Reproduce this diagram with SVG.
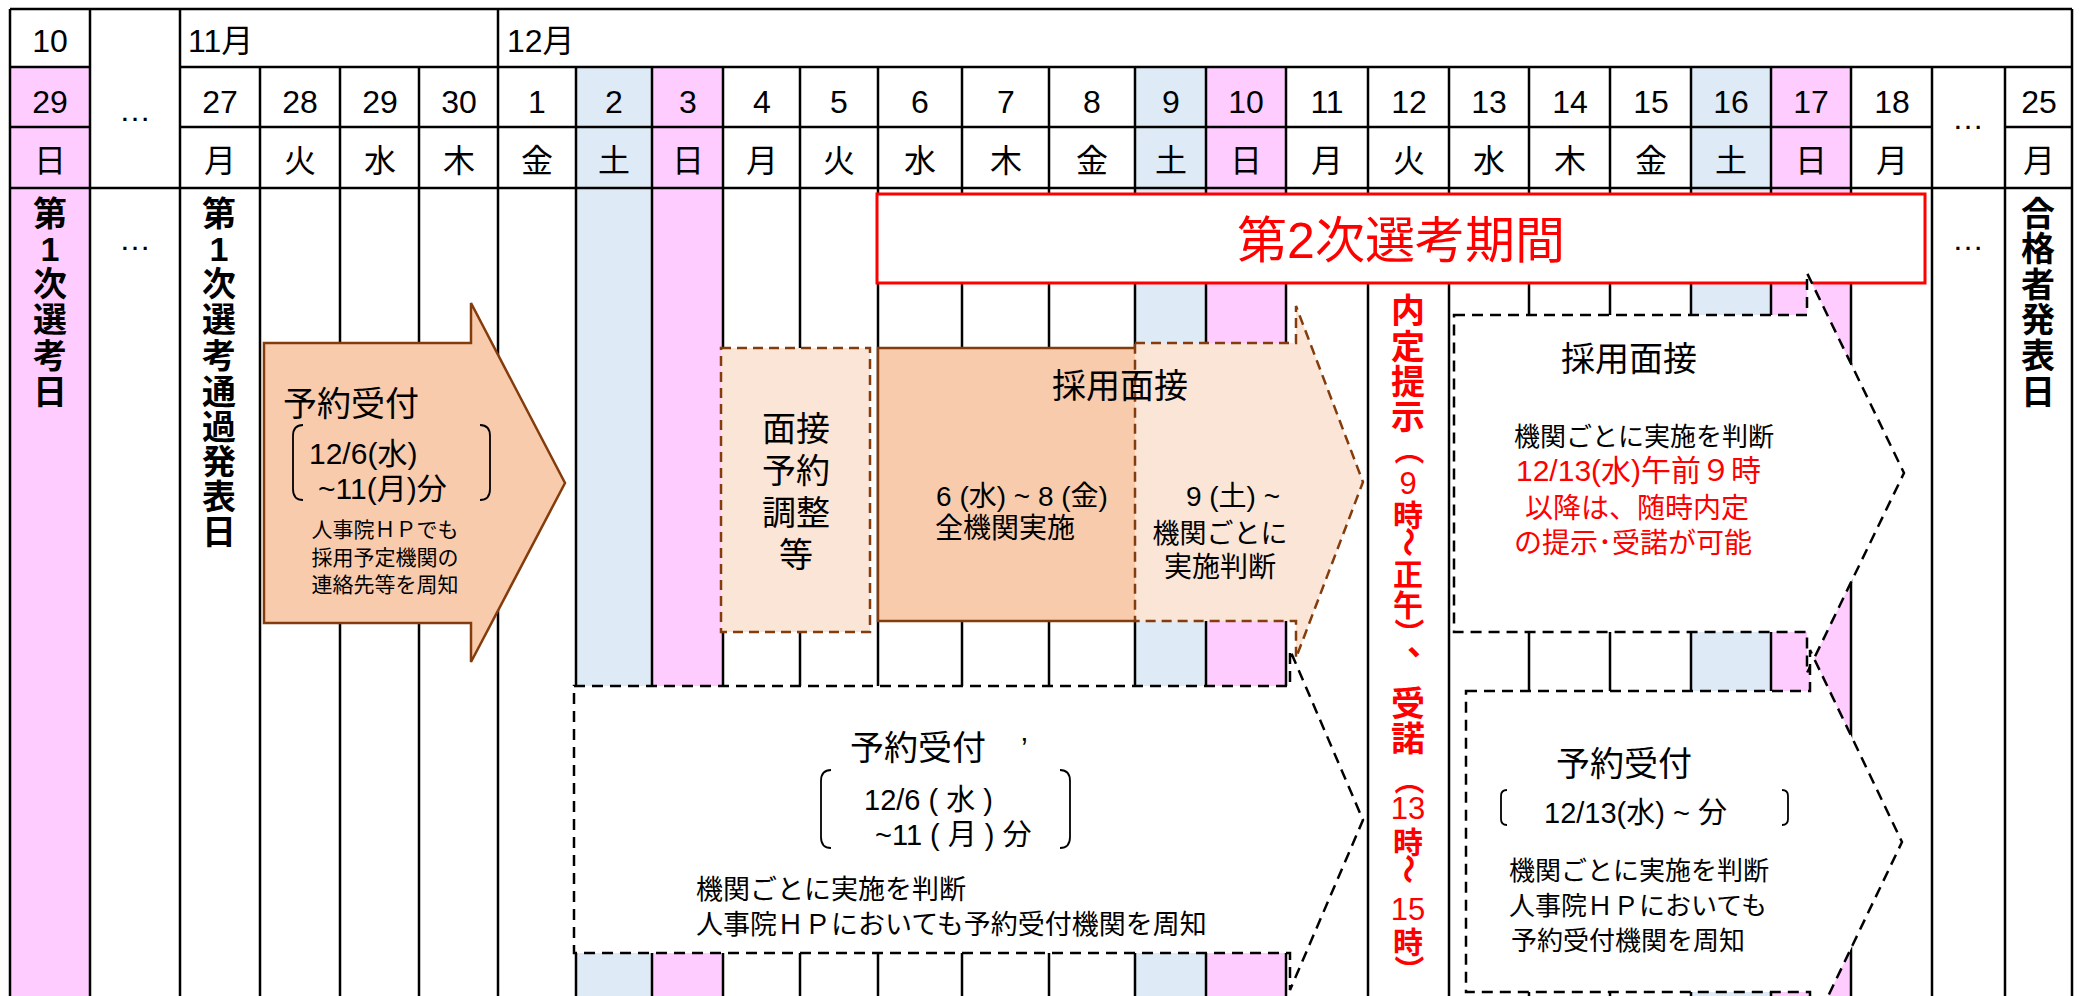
<svg xmlns="http://www.w3.org/2000/svg" width="2083" height="996" viewBox="0 0 2083 996">
<style>
.ln{stroke:#000;stroke-width:2.5;fill:none}
.f{font-family:"Liberation Sans","Noto Sans CJK JP",sans-serif;fill:#000}
.m{text-anchor:middle}
.hd{font-size:32px}
.wd{font-size:32px}
.vb{font-size:34px;font-weight:bold;text-anchor:middle;dominant-baseline:central}
.vs{font-size:30px;font-weight:bold;text-anchor:middle;dominant-baseline:central}
.vd{font-size:31px;text-anchor:middle;dominant-baseline:central}
.red{fill:#F00}
.pink{fill:#FFCCFF}
.blue{fill:#DEEBF7}
.orange{fill:#F8CBAD;stroke:#843C0C;stroke-width:2.5}
.peach{fill:#FBE5D6;stroke:#843C0C;stroke-width:2.5;stroke-dasharray:10 6}
.dash{fill:#fff;stroke:#000;stroke-width:2.5;stroke-dasharray:11 7}
.br{fill:none;stroke:#000;stroke-width:1.8}
</style>
<rect x="0" y="0" width="2083" height="996" fill="#fff"/>

<g id="calendar">
  <rect class="pink" x="10" y="67" width="80" height="929"/>
  <rect class="blue" x="576" y="67" width="76" height="929"/>
  <rect class="pink" x="652" y="67" width="71" height="929"/>
  <rect class="blue" x="1135" y="67" width="71" height="929"/>
  <rect class="pink" x="1206" y="67" width="80" height="929"/>
  <rect class="blue" x="1691" y="67" width="80" height="929"/>
  <rect class="pink" x="1771" y="67" width="80" height="929"/>
  <path class="ln" d="M10,9H2072 M10,67H90 M180,67H2072 M10,127H90 M180,127H1932 M2005,127H2072 M10,188H2072
  M10,9V996 M90,9V996 M180,9V996 M498,9V996 M2072,9V996
  M260,67V996 M340,67V996 M419,67V996 M576,67V996 M652,67V996 M723,67V996 M800,67V996 M878,67V996
  M962,67V996 M1049,67V996 M1135,67V996 M1206,67V996 M1286,67V996 M1368,67V996 M1449,67V996
  M1529,67V996 M1610,67V996 M1691,67V996 M1771,67V996 M1851,67V996 M1932,67V996 M2005,67V996"/>
  <g class="f hd m">
    <text x="50" y="52">10</text>
    <text x="135" y="121">…</text>
    <text x="1968" y="129">…</text>
    <text x="135" y="250">…</text>
    <text x="1968" y="250">…</text>
    <text x="50" y="113">29</text>
    <text x="220" y="113">27</text>
    <text x="300" y="113">28</text>
    <text x="380" y="113">29</text>
    <text x="459" y="113">30</text>
    <text x="537" y="113">1</text>
    <text x="614" y="113">2</text>
    <text x="688" y="113">3</text>
    <text x="762" y="113">4</text>
    <text x="839" y="113">5</text>
    <text x="920" y="113">6</text>
    <text x="1006" y="113">7</text>
    <text x="1092" y="113">8</text>
    <text x="1171" y="113">9</text>
    <text x="1246" y="113">10</text>
    <text x="1327" y="113">11</text>
    <text x="1409" y="113">12</text>
    <text x="1489" y="113">13</text>
    <text x="1570" y="113">14</text>
    <text x="1651" y="113">15</text>
    <text x="1731" y="113">16</text>
    <text x="1811" y="113">17</text>
    <text x="1892" y="113">18</text>
    <text x="2039" y="113">25</text>
  </g>
  <text class="f hd" x="188" y="52">11月</text>
  <text class="f hd" x="507" y="52">12月</text>
  <g class="f wd m">
    <text x="50" y="172">日</text>
    <text x="220" y="172">月</text>
    <text x="300" y="172">火</text>
    <text x="380" y="172">水</text>
    <text x="459" y="172">木</text>
    <text x="537" y="172">金</text>
    <text x="614" y="172">土</text>
    <text x="688" y="172">日</text>
    <text x="762" y="172">月</text>
    <text x="839" y="172">火</text>
    <text x="920" y="172">水</text>
    <text x="1006" y="172">木</text>
    <text x="1092" y="172">金</text>
    <text x="1171" y="172">土</text>
    <text x="1246" y="172">日</text>
    <text x="1327" y="172">月</text>
    <text x="1409" y="172">火</text>
    <text x="1489" y="172">水</text>
    <text x="1570" y="172">木</text>
    <text x="1651" y="172">金</text>
    <text x="1731" y="172">土</text>
    <text x="1811" y="172">日</text>
    <text x="1892" y="172">月</text>
    <text x="2039" y="172">月</text>
  </g>
</g>

<g id="label-exam1" class="f">
  <text class="vb" x="50" y="214">第</text>
  <text class="vb" x="50" y="249">1</text>
  <text class="vb" x="50" y="284">次</text>
  <text class="vb" x="50" y="320">選</text>
  <text class="vb" x="50" y="356">考</text>
  <text class="vb" x="50" y="392">日</text>
</g>

<g id="label-pass1" class="f">
  <text class="vb" x="219" y="214">第</text>
  <text class="vb" x="219" y="249">1</text>
  <text class="vb" x="219" y="284">次</text>
  <text class="vb" x="219" y="320">選</text>
  <text class="vb" x="219" y="356">考</text>
  <text class="vb" x="219" y="392">通</text>
  <text class="vb" x="219" y="427">過</text>
  <text class="vb" x="219" y="462">発</text>
  <text class="vb" x="219" y="497">表</text>
  <text class="vb" x="219" y="532">日</text>
</g>

<g id="label-final" class="f">
  <text class="vb" x="2038" y="214">合</text>
  <text class="vb" x="2038" y="249">格</text>
  <text class="vb" x="2038" y="285">者</text>
  <text class="vb" x="2038" y="320">発</text>
  <text class="vb" x="2038" y="356">表</text>
  <text class="vb" x="2038" y="392">日</text>
</g>

<g id="label-naitei" class="f red">
  <text class="vb red" x="1408" y="311">内</text>
  <text class="vb red" x="1408" y="347">定</text>
  <text class="vb red" x="1408" y="382">提</text>
  <text class="vb red" x="1408" y="417">示</text>
  <text class="vs red" transform="translate(1408,450) rotate(90)">（</text>
  <text class="vd red" x="1408" y="483">9</text>
  <text class="vs red" x="1408" y="515">時</text>
  <text class="vs red" transform="translate(1408,542) rotate(90)">～</text>
  <text class="vs red" x="1408" y="574">正</text>
  <text class="vs red" x="1408" y="605">午</text>
  <text class="vs red" transform="translate(1408,633) rotate(90)">）</text>
  <text class="vb red" x="1424" y="643">、</text>
  <text class="vb red" x="1408" y="704">受</text>
  <text class="vb red" x="1408" y="739">諾</text>
  <text class="vs red" transform="translate(1408,780) rotate(90)">（</text>
  <text class="vd red" x="1408" y="808">13</text>
  <text class="vs red" x="1408" y="842">時</text>
  <text class="vs red" transform="translate(1408,869) rotate(90)">～</text>
  <text class="vd red" x="1408" y="909">15</text>
  <text class="vs red" x="1408" y="942">時</text>
  <text class="vs red" transform="translate(1408,970) rotate(90)">）</text>
</g>

<g id="node-period2">
  <rect x="877" y="194" width="1048" height="89" fill="#fff" stroke="#F00" stroke-width="3"/>
  <text class="f m red" x="1401" y="258" font-size="50">第2次選考期間</text>
</g>

<g id="node-reserve1">
  <polygon class="orange" points="264,343 471,343 471,303 565,483 471,662 471,623 264,623"/>
  <text class="f" x="283" y="416" font-size="34">予約受付</text>
  <path class="br" d="M303,425 Q293,425 293,436 L293,489 Q293,500 303,500 M480,425 Q490,425 490,436 L490,489 Q490,500 480,500"/>
  <text class="f" x="309" y="464" font-size="30">12/6(水)</text>
  <text class="f" x="318" y="499" font-size="30">~11(月)分</text>
  <g class="f m" font-size="21">
    <text x="385" y="537">人事院ＨＰでも</text>
    <text x="385" y="565">採用予定機関の</text>
    <text x="385" y="592">連絡先等を周知</text>
  </g>
</g>

<g id="node-adjust">
  <rect class="peach" x="721" y="348" width="149" height="284"/>
  <g class="f m" font-size="34">
    <text x="796" y="441">面接</text>
    <text x="796" y="483">予約</text>
    <text x="796" y="525">調整</text>
    <text x="796" y="567">等</text>
  </g>
</g>

<g id="node-interview1">
  <rect x="878" y="348" width="257" height="273" fill="#F8CBAD"/>
  <path d="M1135,348 H878 V621 H1135" fill="none" stroke="#843C0C" stroke-width="2.5"/>
  <polygon class="peach" points="1135,343 1296,343 1296,306 1363,482 1296,658 1296,621 1135,621"/>
  <text class="f m" x="1120" y="398" font-size="34">採用面接</text>
  <text class="f m" x="1022" y="506" font-size="28">6 (水) ~ 8 (金)</text>
  <text class="f m" x="1005" y="538" font-size="28">全機関実施</text>
  <text class="f m" x="1233" y="506" font-size="28">9 (土) ~</text>
  <text class="f m" x="1220" y="543" font-size="27">機関ごとに</text>
  <text class="f m" x="1220" y="577" font-size="28">実施判断</text>
</g>

<g id="node-reserve2">
  <polygon class="dash" points="574,686 1290,686 1290,650 1363,820 1290,990 1290,953 574,953"/>
  <text class="f" x="850" y="760" font-size="34">予約受付</text>
  <text class="f" x="1021" y="758" font-size="30">’</text>
  <path class="br" d="M831,770 Q821,770 821,781 L821,837 Q821,848 831,848 M1060,770 Q1070,770 1070,781 L1070,837 Q1070,848 1060,848"/>
  <text class="f" x="864" y="810" font-size="29">12/6 ( 水 )</text>
  <text class="f" x="875" y="845" font-size="29">~11 ( 月 ) 分</text>
  <text class="f" x="696" y="899" font-size="27">機関ごとに実施を判断</text>
  <text class="f" x="696" y="934" font-size="27">人事院ＨＰにおいても予約受付機関を周知</text>
</g>

<g id="node-interview2">
  <polygon class="dash" points="1454,315 1807,315 1807,273 1904,473 1807,673 1807,632 1454,632"/>
  <text class="f m" x="1629" y="371" font-size="34">採用面接</text>
  <text class="f" x="1514" y="446" font-size="26">機関ごとに実施を判断</text>
  <text class="f red" x="1516" y="481" font-size="30">12/13(水)午前９時</text>
  <text class="f red" x="1525" y="518" font-size="28">以降は、随時内定</text>
  <text class="f red" x="1514" y="553" font-size="28">の提示･受諾が可能</text>
</g>

<g id="node-reserve3">
  <polygon class="dash" points="1466,691 1810,691 1810,650 1902,842 1810,1034 1810,992 1466,992"/>
  <text class="f" x="1556" y="776" font-size="34">予約受付</text>
  <path class="br" d="M1507,790 Q1501,790 1501,796 L1501,819 Q1501,825 1507,825 M1782,790 Q1788,790 1788,796 L1788,819 Q1788,825 1782,825"/>
  <text class="f" x="1544" y="823" font-size="29">12/13(水) ~ 分</text>
  <text class="f" x="1509" y="880" font-size="26">機関ごとに実施を判断</text>
  <text class="f" x="1509" y="915" font-size="26">人事院ＨＰにおいても</text>
  <text class="f" x="1511" y="950" font-size="26">予約受付機関を周知</text>
</g>

<g id="connectors"></g>
</svg>
